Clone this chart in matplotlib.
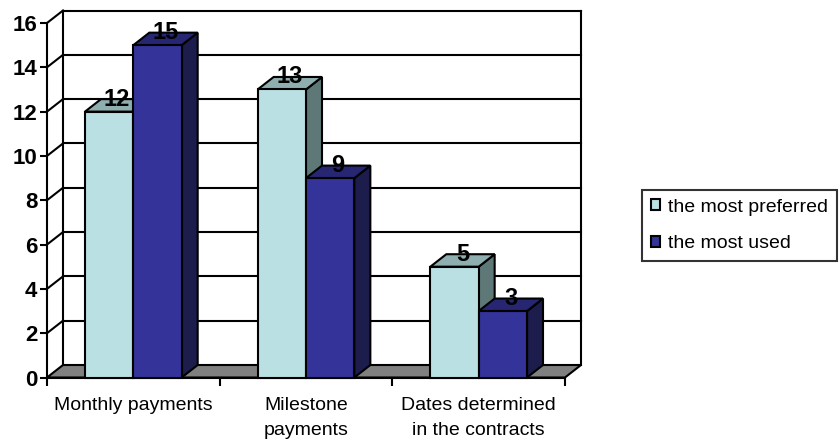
import matplotlib.pyplot as plt
from matplotlib.patches import Polygon, Patch

plt.rcParams['font.family'] = ['Liberation Sans', 'DejaVu Sans']

categories = ['Monthly payments', 'Milestone\npayments', 'Dates determined\nin the contracts']
series_names = ['the most preferred', 'the most used']
preferred = [12, 13, 5]
used = [15, 9, 3]
y_ticks = [0, 2, 4, 6, 8, 10, 12, 14, 16]

# face colours: front, top, side
styles = [
    ('#BAE0E3', '#8FAEAF', '#5E7878'),
    ('#333399', '#262672', '#1C1C4D'),
]

W, H = 840, 445
LW = 1.5
fig = plt.figure(figsize=(W / 100, H / 100), dpi=100)
left, right, bottom, top = 47, 565, 377.5, 23
ax = fig.add_axes([left / W, 1 - bottom / H, (right - left) / W, (bottom - top) / H])
ax.set_xlim(0, 3)
ax.set_ylim(0, 16)

# 3-D depth offset, converted from pixels to data units
dx = 16 / ((right - left) / 3)
dy = 12.5 / ((bottom - top) / 16)

# back wall gridlines and side-wall diagonals
for v in y_ticks[1:]:
    ax.plot([dx, 3 + dx], [v + dy, v + dy], color='black', lw=LW, zorder=1, clip_on=False)
    ax.plot([0, dx], [v, v + dy], color='black', lw=LW, zorder=1, clip_on=False)
ax.plot([dx, dx], [dy, 16 + dy], color='black', lw=LW, zorder=1, clip_on=False)
ax.plot([3 + dx, 3 + dx], [dy, 16 + dy], color='black', lw=LW, zorder=1, clip_on=False)

# floor
ax.add_patch(Polygon([(0, 0), (3, 0), (3 + dx, dy), (dx, dy)], closed=True,
                     facecolor='#808080', edgecolor='black', lw=LW, zorder=2, clip_on=False))

bar_w = 0.28
for s, vals in enumerate([preferred, used]):
    front, topc, side = styles[s]
    for i, v in enumerate(vals):
        x0 = i + 0.22 + s * bar_w
        x1 = x0 + bar_w
        z = 3 + i * 2 + s
        ax.add_patch(Polygon([(x1, 0), (x1 + dx, dy), (x1 + dx, v + dy), (x1, v)],
                             facecolor=side, edgecolor='black', lw=LW, zorder=z, clip_on=False))
        ax.add_patch(Polygon([(x0, v), (x1, v), (x1 + dx, v + dy), (x0 + dx, v + dy)],
                             facecolor=topc, edgecolor='black', lw=LW, zorder=z, clip_on=False))
        ax.add_patch(Polygon([(x0, 0), (x1, 0), (x1, v), (x0, v)],
                             facecolor=front, edgecolor='black', lw=LW, zorder=z, clip_on=False))
        ax.text((x0 + x1) / 2 + dx / 2, v + dy, str(v), ha='center', va='center',
                fontsize=17, fontweight='bold', zorder=20, clip_on=False)

for sp in ['top', 'right']:
    ax.spines[sp].set_visible(False)
for sp in ['left', 'bottom']:
    ax.spines[sp].set_linewidth(LW)
    ax.spines[sp].set_zorder(2.5)

ax.set_yticks(y_ticks)
ax.set_yticklabels([str(t) for t in y_ticks], fontsize=16, fontweight='bold')
ax.tick_params(axis='y', length=5, width=LW, pad=2)
ax.set_xticks([0, 1, 2, 3])
ax.set_xticklabels([])
ax.tick_params(axis='x', which='major', length=6, width=LW)
ax.set_xticks([0.5, 1.5, 2.5], minor=True)
ax.set_xticklabels(categories, minor=True, fontsize=14, linespacing=1.6)
ax.tick_params(axis='x', which='minor', length=0, pad=14)

handles = [Patch(facecolor=styles[k][0], edgecolor='black', lw=LW, label=series_names[k])
           for k in range(2)]
leg = fig.legend(handles=handles, loc='upper left', bbox_to_anchor=(642 / W, 1 - 190 / H),
                 fontsize=14, frameon=True, fancybox=False, handlelength=0.5,
                 handleheight=0.5, handletextpad=0.4, borderpad=0.45, labelspacing=1.0,
                 borderaxespad=0)
leg.get_frame().set_edgecolor('black')
leg.get_frame().set_linewidth(LW)

fig.savefig('out.png', dpi=100)
